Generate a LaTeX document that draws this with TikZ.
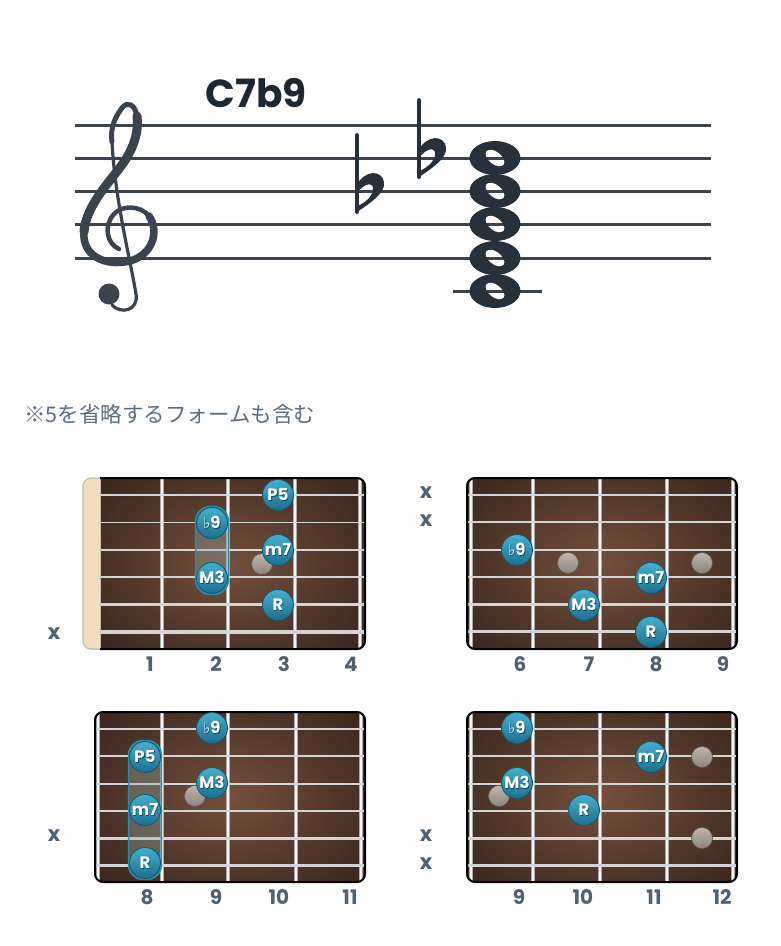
\documentclass[tikz,border=0pt]{standalone}
\usepackage{fontspec}
\usetikzlibrary{fit,shapes.geometric}
\newfontfamily\pop{Poppins}
\newfontfamily\cjk{Noto Sans CJK JP}
\newfontfamily\dejav{DejaVu Sans}
\definecolor{staffc}{HTML}{3B444E}
\definecolor{notec}{HTML}{27313B}
\definecolor{titlec}{HTML}{1E2833}
\definecolor{jpc}{HTML}{5D6E80}
\definecolor{numc}{HTML}{4F6275}
\definecolor{boardin}{HTML}{74503D}
\definecolor{boardout}{HTML}{3A271E}
\definecolor{stringc}{HTML}{D4D4D4}
\definecolor{fretdark}{HTML}{A9A9A9}
\definecolor{fretlight}{HTML}{F4F4F4}
\definecolor{dottop}{HTML}{46AECD}
\definecolor{dotbot}{HTML}{1C6F8E}
\definecolor{dotedge}{HTML}{15556E}
\definecolor{dotshadow}{HTML}{124A60}
\definecolor{greytop}{HTML}{BDB5AE}
\definecolor{greybot}{HTML}{8C847D}
\definecolor{greyedge}{HTML}{5E5650}
\definecolor{nutc}{HTML}{F0DDC2}
\definecolor{nutedge}{HTML}{CDBBA3}
\definecolor{capc}{HTML}{2A8DAC}
\definecolor{capfill}{HTML}{8FB0AA}
\newcommand\shtext[1]{\leavevmode\rlap{\kern0.8pt\raisebox{-1.1pt}{\textcolor{dotshadow}{#1}}}#1}
\newcommand\flt{{\dejav\fontsize{15pt}{15pt}\selectfont\raisebox{0.5pt}{♭}}}
\tikzset{
  x=1pt,y=-1pt,
  staffline/.style={staffc,line width=3pt},
  clefstroke/.style={staffc,line cap=round},
  dotn/.style={circle,minimum size=31pt,inner sep=0pt,draw=dotedge,line width=0.8pt,
     top color=dottop,bottom color=dotbot,text=white,font=\pop\bfseries\fontsize{16.5pt}{16.5pt}\selectfont},
  greydot/.style={circle,minimum size=21pt,inner sep=0pt,draw=greyedge,line width=0.6pt,
     top color=greytop,bottom color=greybot},
  capsule/.style={rounded corners=14.5pt,draw=capc,line width=1.6pt,fill=capfill,fill opacity=0.35,inner sep=0.5pt},
  fretnum/.style={text=numc,font=\pop\bfseries\fontsize{20pt}{20pt}\selectfont,anchor=center},
  mutex/.style={text=numc,font=\pop\bfseries\fontsize{21pt}{21pt}\selectfont,anchor=center},
}
% board: #1 left, #2 right, #3 top, #4 bottom, #5 fret x list
\newcommand\fboard[5]{%
  \begin{scope}
    \clip[rounded corners=8pt] (#1,#3) rectangle (#2,#4);
    \shade[inner color=boardin,outer color=boardout] (#1-40,#3-40) rectangle (#2+40,#4+40);
    \foreach \fx in {#5} {
      \draw[fretdark,line width=4.6pt] (\fx,#3) -- (\fx,#4);
      \draw[fretlight,line width=2.2pt] (\fx,#3) -- (\fx,#4);
    }
    \foreach \i/\w in {0/1.6,1/1.8,2/2.0,3/2.3,4/3.0,5/3.4} {
      \draw[stringc,line width=\w pt] (#1,#3+17+\i*27.3) -- (#2,#3+17+\i*27.3);
    }
  \end{scope}
  \draw[black,line width=2pt,rounded corners=8pt] (#1,#3) rectangle (#2,#4);
}
\begin{document}
\begin{tikzpicture}
\useasboundingbox[fill=white] (0,0) rectangle (780,946);
% ---------- staff ----------
\foreach \sy in {125,158,191,224,258} \draw[staffline] (75,\sy) -- (711,\sy);
\draw[staffline] (453,291) -- (542,291);
\node[text=titlec,font=\pop\bfseries\fontsize{39pt}{39pt}\selectfont] (title) at (256,93) {C7b9};
% treble clef
\draw[clefstroke,line width=4.5pt] (119,249) .. controls (107,244) and (103,226) .. (114,214) .. controls (122,205) and (140,205) .. (149,216);
\draw[clefstroke,line width=7.5pt] (149,216) .. controls (160,232) and (152,255) .. (130,261);
\draw[clefstroke,line width=7.5pt] (130,261) .. controls (104,267) and (82,255) .. (84,232);
\draw[clefstroke,line width=9pt] (84,232) .. controls (86,205) and (110,182) .. (124,162) .. controls (134,147) and (139,131) .. (137,116);
\draw[clefstroke,line width=5pt] (137,116) .. controls (135,104) and (127,101) .. (122,108) .. controls (115,117) and (110,128) .. (112,142);
\draw[clefstroke,line width=3.2pt] (112,142) .. controls (115,200) and (130,258) .. (136,294);
\draw[clefstroke,line width=3.2pt] (136,294) .. controls (139,310) and (121,315) .. (112,305);
\fill[staffc] (109,294) circle[radius=10.5];
% flats
\foreach \fx/\fy in {357/135,419/100} {
  \draw[notec,line width=3.8pt,line cap=round] (\fx,\fy) -- (\fx,\fy+77);
  \fill[notec] (\fx-1.5,\fy+78) .. controls (\fx+12,\fy+69) and (\fx+29,\fy+58) .. (\fx+27,\fy+47)
     .. controls (\fx+25,\fy+35) and (\fx+8,\fy+34) .. (\fx-1,\fy+51) -- (\fx,\fy+58)
     .. controls (\fx+8,\fy+47) and (\fx+17,\fy+47) .. (\fx+16,\fy+55)
     .. controls (\fx+15,\fy+62) and (\fx+8,\fy+68) .. (\fx-1.5,\fy+72) -- cycle;
}
% whole notes
\foreach \ny in {158,191,224,258,291} {
  \fill[notec,even odd rule] (495,\ny) ellipse [x radius=25.5, y radius=17]
     {[rotate around={-38:(495,\ny)}] (495,\ny) ellipse [x radius=11, y radius=6.3]};
}
% Japanese note
\node[anchor=west,inner sep=0pt,text=jpc,font=\cjk\fontsize{21.5pt}{21.5pt}\selectfont] (jp) at (24,414) {※5を省略するフォームも含む};

% ---------- diagram 1 ----------
\begin{scope}
  \clip[rounded corners=8pt] (83,478) rectangle (365,649);
  \shade[inner color=boardin,outer color=boardout] (60,440) rectangle (400,690);
  \foreach \fx in {162,228,295,360} {
    \draw[fretdark,line width=4.6pt] (\fx,478) -- (\fx,649);
    \draw[fretlight,line width=2.2pt] (\fx,478) -- (\fx,649);
  }
  \foreach \i/\w in {0/1.6,1/1.8,2/2.0,3/2.3,4/3.0,5/3.4} {
    \draw[stringc,line width=\w pt] (100,495+\i*27.4) -- (365,495+\i*27.4);
  }
  \fill[nutc] (83,478) rectangle (100,649);
  \draw[nutedge,line width=1pt] (100,478) -- (100,649);
\end{scope}
\draw[black,line width=2pt,rounded corners=8pt] (100,478) -- (365,478) -- (365,649) -- (100,649);
\draw[nutedge,line width=1.2pt,rounded corners=8pt] (100,478) -- (83,478) -- (83,649) -- (100,649);
\node[greydot] (g1) at (262,564) {};
\node[dotn] (a9) at (212,523) {\shtext{\flt9}};
\node[dotn] (a3) at (212,578) {\shtext{M3}};
\node[capsule,fit=(a9)(a3)] (cap1) {};
\node[dotn] (a9b) at (212,523) {\shtext{\flt9}};
\node[dotn] (a3b) at (212,578) {\shtext{M3}};
\node[dotn] (a5) at (278,495) {\shtext{P5}};
\node[dotn] (a7) at (278,550) {\shtext{m7}};
\node[dotn] (aR) at (278,605) {\shtext{R}};
\node[mutex] (ax6) at (54,634) {x};
\node[fretnum] (an1) at (150,664) {1};
\node[fretnum] (an2) at (216,664) {2};
\node[fretnum] (an3) at (284,664) {3};
\node[fretnum] (an4) at (351,664) {4};

% ---------- diagram 2 ----------
\fboard{467}{737}{478}{649}{471,533,600,667,733}
\node[greydot] (g2a) at (568,563) {};
\node[greydot] (g2b) at (702,563) {};
\node[dotn] (b9) at (517,550) {\shtext{\flt9}};
\node[dotn] (b3) at (584,605) {\shtext{M3}};
\node[dotn] (b7) at (651,578) {\shtext{m7}};
\node[dotn] (bR) at (651,632) {\shtext{R}};
\node[mutex] (bx1) at (426,493) {x};
\node[mutex] (bx2) at (426,521) {x};
\node[fretnum] (bn6) at (520,664) {6};
\node[fretnum] (bn7) at (589,664) {7};
\node[fretnum] (bn8) at (656,664) {8};
\node[fretnum] (bn9) at (723,664) {9};

% ---------- diagram 3 ----------
\fboard{95}{365}{712}{882}{98,162,228,296,361}
\node[greydot] (g3) at (195,796) {};
\node[dotn] (c5) at (145,757) {\shtext{P5}};
\node[dotn] (c7) at (145,810) {\shtext{m7}};
\node[dotn] (cR) at (145,863) {\shtext{R}};
\node[capsule,fit=(c5)(cR)] (cap3) {};
\node[dotn] (c5b) at (145,757) {\shtext{P5}};
\node[dotn] (c7b) at (145,810) {\shtext{m7}};
\node[dotn] (cRb) at (145,863) {\shtext{R}};
\node[dotn] (c9) at (212,728) {\shtext{\flt9}};
\node[dotn] (c3) at (212,783) {\shtext{M3}};
\node[mutex] (cx5) at (54,836) {x};
\node[fretnum] (cn8) at (147,897) {8};
\node[fretnum] (cn9) at (216,897) {9};
\node[fretnum] (cn10) at (279,897) {10};
\node[fretnum] (cn11) at (350,897) {11};

% ---------- diagram 4 ----------
\fboard{467}{737}{712}{882}{471,533,600,667,733}
\node[greydot] (g4a) at (499,796) {};
\node[greydot] (g4b) at (702,757) {};
\node[greydot] (g4c) at (702,838) {};
\node[dotn] (d9) at (517,728) {\shtext{\flt9}};
\node[dotn] (d7) at (651,757) {\shtext{m7}};
\node[dotn] (d3) at (517,783) {\shtext{M3}};
\node[dotn] (dR) at (584,810) {\shtext{R}};
\node[mutex] (dx5) at (426,836) {x};
\node[mutex] (dx6) at (426,864) {x};
\node[fretnum] (dn9) at (519,897) {9};
\node[fretnum] (dn10) at (583,897) {10};
\node[fretnum] (dn11) at (654,897) {11};
\node[fretnum] (dn12) at (722,897) {12};
\end{tikzpicture}
\end{document}
